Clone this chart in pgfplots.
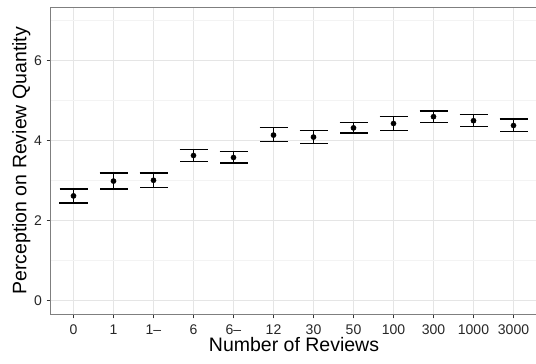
\documentclass[border=0pt]{standalone}
\usepackage{pgfplots}
\pgfplotsset{compat=1.18}
\usepackage{pgfplotstable}
\usepackage{fontspec}
\setmainfont{Liberation Sans}
\definecolor{gridmaj}{HTML}{E5E5E5}
\definecolor{gridmin}{HTML}{F3F3F3}
\definecolor{frame}{HTML}{7F7F7F}
\pgfplotstableread{
x y ep em
0 2.61 0.17 0.18
1 2.98 0.20 0.20
2 3.00 0.18 0.18
3 3.62 0.155 0.16
4 3.57 0.14 0.14
5 4.13 0.18 0.17
6 4.08 0.17 0.16
7 4.31 0.13 0.13
8 4.42 0.17 0.17
9 4.59 0.14 0.14
10 4.49 0.16 0.15
11 4.37 0.16 0.16
}\datatable
\begin{document}
\begin{tikzpicture}
\path[use as bounding box] (0,0) rectangle (536bp,364bp);
\begin{axis}[
  at={(50.5bp,49.7bp)}, anchor=south west,
  scale only axis,
  width=487bp, height=307bp,
  xmin=-0.575, xmax=11.6,
  ymin=-0.35, ymax=7.325,
  xtick={0,...,11},
  xticklabels={0,1,1--,6,6--,12,30,50,100,300,1000,3000},
  ytick={0,2,4,6},
  minor ytick={1,3,5,7},
  grid=both,
  major grid style={gridmaj, line width=0.8bp},
  minor grid style={gridmin, line width=0.6bp},
  axis line style={frame, line width=0.9bp},
  tick align=outside,
  tick pos=left,
  major tick length=4bp,
  minor tick length=0pt,
  tick style={black!80, line width=0.8bp},
  ticklabel style={font=\fontsize{14bp}{16bp}\selectfont, text=black!85},
  /pgf/number format/assume math mode=true,
  xlabel={Number of Reviews},
  ylabel={Perception on Review Quantity},
  label style={font=\fontsize{19.5bp}{21bp}\selectfont},
  xlabel style={yshift=4bp},
  ylabel style={yshift=-3bp},
  xticklabel style={yshift=-3bp},
  yticklabel style={xshift=-1bp},
]
\addplot[only marks, mark=*, mark size=2.6bp, black,
  error bars/.cd, y dir=both, y explicit,
  error bar style={line width=1.1bp, black},
  error mark options={rotate=90, mark size=14bp, line width=1.2bp, black}]
  table[x=x, y=y, y error plus=ep, y error minus=em] {\datatable};
\end{axis}
\end{tikzpicture}
\end{document}
